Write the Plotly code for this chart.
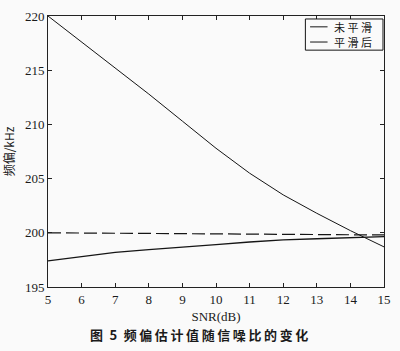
import plotly.graph_objects as go

# Data
snr = [5, 6, 7, 8, 9, 10, 11, 12, 13, 14, 15]
unsmoothed = [220.0, 217.6, 215.2, 212.8, 210.3, 207.8, 205.5, 203.5, 201.8, 200.2, 198.7]
smoothed = [197.4, 197.8, 198.2, 198.45, 198.65, 198.9, 199.15, 199.35, 199.45, 199.55, 199.65]
ref_x = [5, 15]
ref_y = [200.0, 199.8]

names = ["未平滑", "平滑后"]
x_title = "SNR(dB)"
y_title = "频偏/kHz"
caption_label = "图 5"
caption_body = "频偏估计值随信噪比的变化"

serif = "Liberation Serif, Times New Roman, serif"
cjk = "Noto Sans CJK SC, sans-serif"
ink = "#151515"

fig = go.Figure()
fig.add_trace(go.Scatter(x=snr, y=unsmoothed, mode="lines", name=names[0], showlegend=False,
                         line=dict(color=ink, width=1)))
fig.add_trace(go.Scatter(x=snr, y=smoothed, mode="lines", name=names[1], showlegend=False,
                         line=dict(color=ink, width=1.3)))
fig.add_trace(go.Scatter(x=ref_x, y=ref_y, mode="lines", showlegend=False,
                         line=dict(color=ink, width=1.2, dash="13px,5px")))

axis_common = dict(
    showgrid=False, zeroline=False, showline=True, linecolor="#222222", linewidth=1,
    mirror="ticks", ticks="inside", ticklen=4, tickcolor="#222222",
    tickfont=dict(family=serif, size=13, color="#1a1a1a"),
)

# Legend drawn as a compact box (paper coordinates)
bx0, bx1, by0, by1 = 0.766, 0.997, 0.874, 0.989
lx0, lx1, tx = 0.780, 0.832, 0.845
rows = [0.960, 0.904]

shapes = [dict(type="rect", xref="paper", yref="paper", x0=bx0, x1=bx1, y0=by0, y1=by1,
               line=dict(color=ink, width=1), fillcolor="#fafafa", layer="above")]
annotations = []
for name, ry in zip(names, rows):
    shapes.append(dict(type="line", xref="paper", yref="paper", x0=lx0, x1=lx1, y0=ry, y1=ry,
                       line=dict(color=ink, width=1), layer="above"))
    annotations.append(dict(text=" ".join(name), xref="paper", yref="paper", x=tx, y=ry,
                            xanchor="left", yanchor="middle", showarrow=False,
                            font=dict(family=cjk, size=11, color=ink)))

cap_text = caption_label.replace(" ", "\u2002") + "\u2002" + "\u2009".join(caption_body)
annotations.append(dict(text="<b>" + cap_text + "</b>", xref="paper", yref="paper",
                        x=0.448, y=-0.177, xanchor="center", yanchor="middle", showarrow=False,
                        font=dict(family=cjk, size=13, color="#1a1a1a")))

fig.update_layout(
    width=400, height=351,
    margin=dict(l=45, r=9, t=10, b=64),
    paper_bgcolor="#fafafa", plot_bgcolor="#fafafa",
    xaxis=dict(range=[5, 15], dtick=1, tick0=5,
               title=dict(text=x_title, font=dict(family=serif, size=13, color="#1a1a1a"), standoff=6),
               **axis_common),
    yaxis=dict(range=[195, 220], dtick=5, tick0=195,
               title=dict(text=y_title, font=dict(family=cjk, size=12, color="#1a1a1a"), standoff=8),
               **axis_common),
    shapes=shapes,
    annotations=annotations,
)

fig.write_html("out.html")
